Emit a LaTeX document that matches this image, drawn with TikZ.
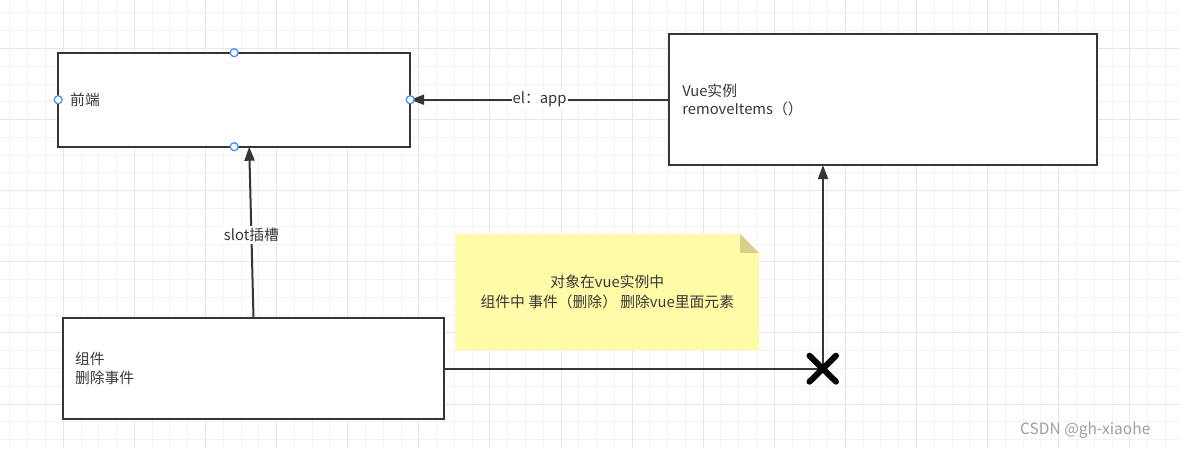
\documentclass[tikz,border=0pt]{standalone}
\usepackage{fontspec}
\setmainfont{Noto Sans CJK SC}
\usetikzlibrary{arrows.meta,backgrounds,calc}
\definecolor{ink}{HTML}{363636}
\definecolor{txt}{HTML}{383838}
\definecolor{gridminor}{HTML}{F3F3F3}
\definecolor{gridmajor}{HTML}{E7E7E7}
\definecolor{handleblue}{HTML}{3D8EF0}
\definecolor{notefill}{HTML}{FFFBA6}
\definecolor{foldfill}{HTML}{D7D189}
\definecolor{wmark}{HTML}{A0A0A0}
\newcommand\dgfont{\fontsize{14.8}{19}\selectfont}
\begin{document}
\begin{tikzpicture}[x=1pt,y=-1pt,
  box/.style={draw=ink, line width=2pt, fill=white, outer sep=0pt, inner ysep=0pt, align=left, font=\dgfont, text=txt},
  conn/.style={draw=ink, line width=2pt},
  tipend/.style={-{Triangle[length=14pt,width=10pt]}},
  handle/.style={circle, draw=handleblue, fill=white, line width=1.2pt, minimum size=8pt, inner sep=0pt},
  lbl/.style={fill=white, inner xsep=1pt, inner ysep=2pt, font=\dgfont, text=txt},
  notebox/.style={minimum width=303pt, minimum height=116pt, align=center, font=\dgfont, text=txt, inner sep=0pt},
  wm/.style={text=wmark, inner sep=0pt, anchor=west}]
\useasboundingbox (0,0) rectangle (1180,448);
\clip (0,0) rectangle (1180,448);

% boxes
\node[box, minimum width=352pt, minimum height=94pt, text width=328pt, inner xsep=12pt] (front) at (234.2,99.7) {前端};
\node[box, minimum width=427.7pt, minimum height=130.7pt, text width=401pt, inner xsep=13.35pt] (vue) at (882.8,99.7) {Vue实例\\[-1pt]removeItems（）};
\node[box, minimum width=381.6pt, minimum height=100.7pt, text width=357pt, inner xsep=12.3pt] (comp) at (253.5,368.7) {组件\\删除事件};

% note
\node[notebox] (note) at (607.3,292) {对象在vue实例中\\[1pt]组件中 事件（删除） 删除vue里面元素};

\begin{scope}[on background layer]
  \fill[white] (0,0) rectangle (1180,448);
  \foreach \i in {0,...,67} {
    \draw[gridminor, line width=1pt] ({-7.8+\i*17.775},0) -- ({-7.8+\i*17.775},448);
  }
  \foreach \i in {0,...,25} {
    \draw[gridminor, line width=1pt] (0,{-4.8+\i*17.775}) -- (1180,{-4.8+\i*17.775});
  }
  \foreach \i in {0,...,16} {
    \draw[gridmajor, line width=1pt] ({-7.8+\i*71.1},0) -- ({-7.8+\i*71.1},448);
  }
  \foreach \i in {0,...,6} {
    \draw[gridmajor, line width=1pt] (0,{48.5+(\i-1)*71.1}) -- (1180,{48.5+(\i-1)*71.1});
  }
  \fill[notefill] (note.north west) -- ([xshift=-19pt]note.north east) -- ([yshift=-19pt]note.north east) -- (note.south east) -- (note.south west) -- cycle;
  \fill[foldfill] ([xshift=-19pt]note.north east) -- ([xshift=-19pt,yshift=-19pt]note.north east) -- ([yshift=-19pt]note.north east) -- cycle;
\end{scope}

% connectors
\draw[conn, tipend] (vue.west) -- node[lbl] (lblel) {el：app} (front.east);
\draw[conn, tipend] (comp.north) -- node[lbl, pos=0.485] (lblslot) {slot插槽} ([xshift=15pt]front.south);
\coordinate (xm) at ($(comp.east)+(378.7,0)$);
\draw[conn] (comp.east) -- (xm);
\draw[conn, tipend] (xm) -- (xm |- vue.south);
\draw[black, line width=6pt, line cap=round] ($(xm)+(-13.5,-13)$) -- ($(xm)+(13,13)$)
  ($(xm)+(-13.5,13)$) -- ($(xm)+(13,-13)$);

% handles
\node[handle] (h1) at (front.north) {};
\node[handle] (h2) at (front.west) {};
\node[handle] (h3) at (front.east) {};
\node[handle] (h4) at (front.south) {};

% watermark
\node[wm, font=\fontsize{15.5}{18}\selectfont] (wm1) at (1020,430) {CSDN @gh-xiaohe};
\end{tikzpicture}
\end{document}
